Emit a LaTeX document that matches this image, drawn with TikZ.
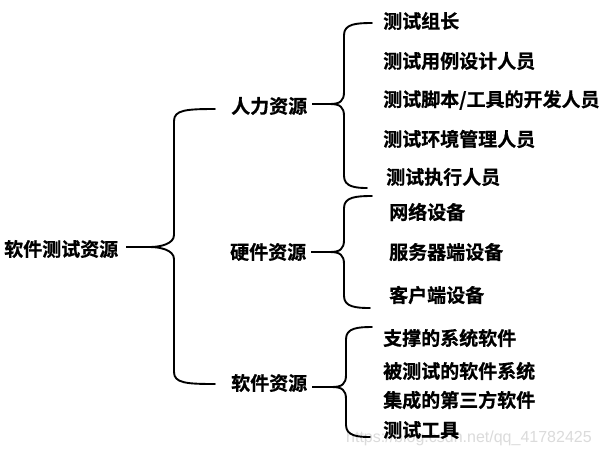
\documentclass[tikz,border=0pt]{standalone}
\usepackage{fontspec}
\newfontfamily\cjk{Noto Sans CJK SC Bold}[FakeBold=0.7]
\newfontfamily\wmfont{Liberation Sans}
\tikzset{
  lbl/.style={anchor=west,inner sep=0pt,font=\cjk\fontsize{19}{21}\selectfont},
  bracestyle/.style={line width=1.9pt,line join=round,line cap=round},
  conn/.style={line width=1.9pt}
}
\newcommand\mybrace[7]{% #1 xv, #2 ytop, #3 ytip, #4 ybot, #5 xtopend, #6 xbotend, #7 xtip
  \draw[bracestyle] (#5,#2) .. controls (#1+12,#2) and (#1,#2+1) .. (#1,#2+12)
    -- (#1,#3-12) .. controls (#1,#3-3) and (#7+10,#3) .. (#7,#3)
    .. controls (#7+10,#3) and (#1,#3+3) .. (#1,#3+12)
    -- (#1,#4-12) .. controls (#1,#4-1) and (#1+12,#4) .. (#6,#4);}
\begin{document}
\begin{tikzpicture}[x=1pt,y=-1pt]
\useasboundingbox[fill=white] (0,0) rectangle (605,456);
% watermark
\node[anchor=west,inner sep=0pt,text=black!14,font=\wmfont\fontsize{16}{18}\selectfont] (wm) at (346,438) {https://blog.csdn.net/qq\_41782425};
% root and level 1
\node[lbl] (root) at (4,249) {软件测试资源};
\node[lbl] (hr) at (231,106) {人力资源};
\node[lbl] (hw) at (230,252) {硬件资源};
\node[lbl] (sw) at (231,383) {软件资源};
% leaves
\node[lbl] (a1) at (383,21) {测试组长};
\node[lbl] (a2) at (383,61) {测试用例设计人员};
\node[lbl] (a3) at (383,100) {测试脚本/工具的开发人员};
\node[lbl] (a4) at (383,139) {测试环境管理人员};
\node[lbl] (a5) at (386,177) {测试执行人员};
\node[lbl] (b1) at (389,212) {网络设备};
\node[lbl] (b2) at (389,252) {服务器端设备};
\node[lbl] (b3) at (389,295) {客户端设备};
\node[lbl] (c1) at (383,338) {支撑的系统软件};
\node[lbl] (c2) at (383,371) {被测试的软件系统};
\node[lbl] (c3) at (383,400) {集成的第三方软件};
\node[lbl] (c4) at (383,430) {测试工具};
% brace tips
\coordinate (t0) at (150,247);
\coordinate (t1) at (330,104);
\coordinate (t2) at (330,252);
\coordinate (t3) at (332,387);
\draw[conn] ([xshift=8pt]root.east |- t0) -- (t0);
\draw[conn] ([xshift=5pt]hr.east |- t1) -- (t1);
\draw[conn] ([xshift=5pt]hw.east |- t2) -- (t2);
\draw[conn] ([xshift=5pt]sw.east |- t3) -- (t3);
\mybrace{174}{109}{247}{384}{215}{215}{150}
\mybrace{344}{23}{104}{188}{372}{367}{330}
\mybrace{344}{196}{252}{308}{372}{370}{330}
\mybrace{346}{327}{387}{437}{372}{370}{332}
\end{tikzpicture}
\end{document}
